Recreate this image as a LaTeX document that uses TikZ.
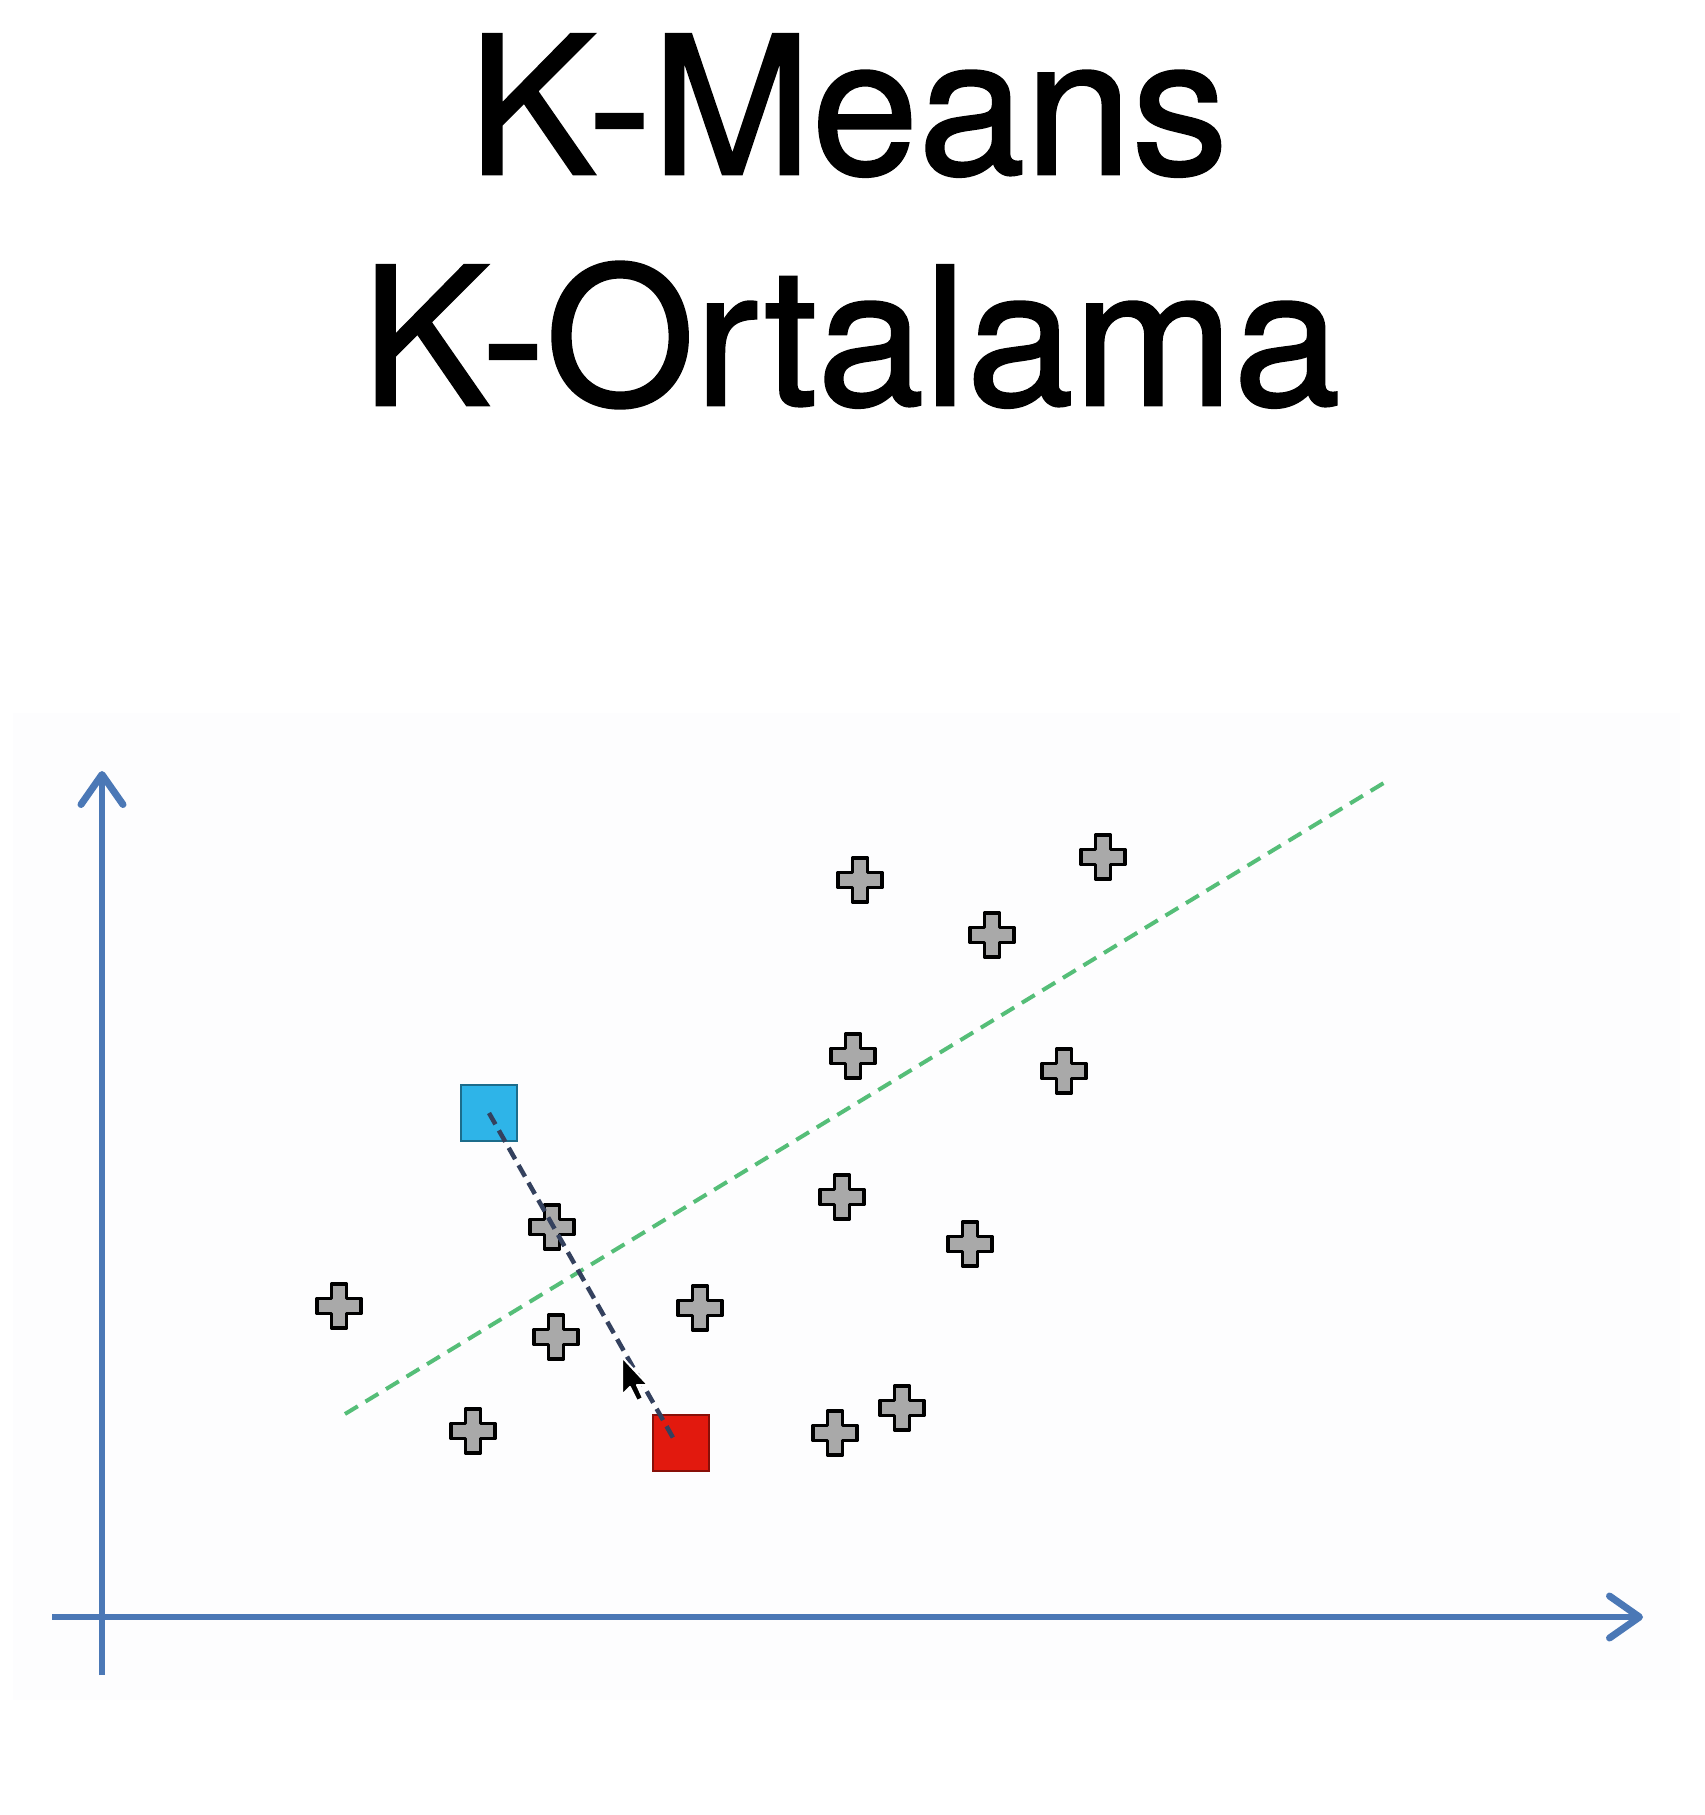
\documentclass[tikz,border=0pt]{standalone}
\usepackage{fontspec}
\setmainfont[FakeBold=1.3]{TeX Gyre Heros}
\usetikzlibrary{arrows.meta}
\definecolor{axblue}{HTML}{4B78B6}
\definecolor{splitg}{HTML}{55BE78}
\definecolor{navy}{HTML}{34415E}
\definecolor{cblue}{HTML}{2EB4E8}
\definecolor{cred}{HTML}{E2190E}
\definecolor{ptgray}{HTML}{A9A9A9}
\definecolor{panel}{HTML}{FDFDFE}
\tikzset{
  title/.style ={font=\fontsize{192}{200}\selectfont,anchor=base,inner sep=0pt},
  axis/.style  ={draw=axblue,line width=6pt,
                 -{Straight Barb[length=30pt,width=42pt,line width=7pt,round]}},
  split/.style ={draw=splitg,line width=4pt,dash pattern=on 15pt off 9pt},
  link/.style  ={draw=navy,line width=4.5pt,dash pattern=on 13pt off 7pt},
  cent/.style  ={draw=#1!60!black,fill=#1,line width=2.5pt,minimum size=56pt,
                 inner sep=0pt},
  ptmark/.style={draw=black,fill=ptgray,line width=3.5pt,line join=round},
  pt/.pic      ={\path[ptmark] (-7.5,-22) -- (7.5,-22) -- (7.5,-7.5) -- (22,-7.5)
                 -- (22,7.5) -- (7.5,7.5) -- (7.5,22) -- (-7.5,22) -- (-7.5,7.5)
                 -- (-22,7.5) -- (-22,-7.5) -- (-7.5,-7.5) -- cycle;},
}
\begin{document}
\begin{tikzpicture}[x=1pt,y=-1pt]
  \useasboundingbox (0,0) rectangle (1705,1815);
  \fill[white] (0,0) rectangle (1705,1815);
  \fill[panel] (13,713) rectangle (1680,1700);

  % --- title ---
  \node[title] (t1) at (848,174) {K-Means};
  \node[title] (t2) at (851,405) {K-Ortalama};

  % --- axes ---
  \coordinate (xs) at (52,1617);
  \coordinate (xe) at (1643,1617);
  \coordinate (ys) at (102,1675);
  \coordinate (ye) at (102,771);
  \draw[axis] (xs) -- (xe);
  \draw[axis] (ys) -- (ye);

  % data points
  \foreach \px/\py in {860/880,1103/857,992/935,853/1056,1064/1071,842/1197,
                       970/1244,552/1227,339/1306,556/1337,700/1308,473/1431,
                       835/1433,902/1408}
    \pic at (\px,\py) {pt};

  % separating line
  \coordinate (g1) at (345,1414);
  \coordinate (g2) at (1387,781);
  \draw[split] (g1) -- (g2);

  % --- centroids ---
  \node[cent=cblue] (c1) at (489,1113) {};
  \node[cent=cred]  (c2) at (681,1443) {};
  \draw[link] (c1.center) -- ([xshift=-5pt]c2.center);

  % cursor
  \filldraw[fill=black,draw=white,line width=2pt,line join=round]
    (622,1357) -- (622,1395) -- (630,1387) -- (637,1401) -- (643,1398)
    -- (637,1385) -- (648,1385) -- cycle;
\end{tikzpicture}
\end{document}
